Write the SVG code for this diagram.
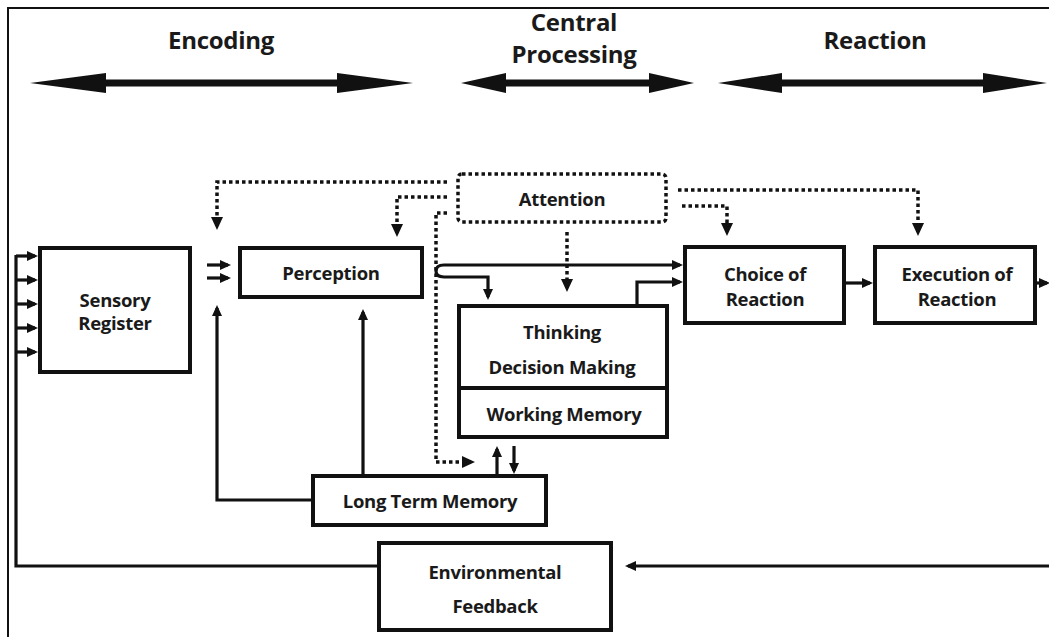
<svg xmlns="http://www.w3.org/2000/svg" width="1049" height="637" viewBox="0 0 1049 637">
  <style>
    .box { fill: #fff; stroke: #111; stroke-width: 4; }
    .dbox { fill: #fff; stroke: #111; stroke-width: 3.5; stroke-dasharray: 3.5 3; }
    .wire { fill: none; stroke: #111; stroke-width: 3.2; }
    .dot { fill: none; stroke: #111; stroke-width: 3.5; stroke-dasharray: 3.5 3; }
    .lbl { font-family: "Open Sans", "Liberation Sans", sans-serif; font-weight: 700; font-size: 18.5px; fill: #1a1a1a; text-anchor: middle; letter-spacing: -0.3px; }
    .hdr { font-family: "Open Sans", "Liberation Sans", sans-serif; font-weight: 700; font-size: 24px; fill: #1a1a1a; text-anchor: middle; letter-spacing: -0.3px; }
    .band { fill: #111; }
  </style>
  <defs>
    <marker id="ah" viewBox="0 0 11 10" refX="8" refY="5" markerWidth="11" markerHeight="10" markerUnits="userSpaceOnUse" orient="auto">
      <path d="M0,0 L11,5 L0,10 z" fill="#111"/>
    </marker>
    <marker id="dh" viewBox="0 0 13 12" refX="9" refY="6" markerWidth="13" markerHeight="12" markerUnits="userSpaceOnUse" orient="auto">
      <path d="M0,0 L13,6 L0,12 z" fill="#111"/>
    </marker>
  </defs>

  <!-- frame -->
  <path d="M8,637 V8 H1049" fill="none" stroke="#111" stroke-width="2"/>

  <!-- stage headers with double arrows -->
  <g id="stage-encoding">
    <text class="hdr" x="221" y="49">Encoding</text>
    <polygon class="band" points="30,83 106,73 106,79.5 337,79.5 337,73 413,83 337,93 337,86.5 106,86.5 106,93"/>
  </g>
  <g id="stage-central">
    <text class="hdr" x="574" y="31">Central</text>
    <text class="hdr" x="574" y="63">Processing</text>
    <polygon class="band" points="461,83 506,73 506,79.5 649,79.5 649,73 694,83 649,93 649,86.5 506,86.5 506,93"/>
  </g>
  <g id="stage-reaction">
    <text class="hdr" x="875" y="49">Reaction</text>
    <polygon class="band" points="718,83 782,73 782,79.5 983,79.5 983,73 1047,83 983,93 983,86.5 782,86.5 782,93"/>
  </g>

  <!-- connectors -->
  <g id="connectors">
    <!-- environmental feedback loop into the sensory register -->
    <path class="wire" d="M379,566 H16 V255"/>
    <path class="wire" d="M1049,566 H628" marker-end="url(#ah)"/>
    <path class="wire" d="M16,256 H35" marker-end="url(#ah)"/>
    <path class="wire" d="M16,280 H35" marker-end="url(#ah)"/>
    <path class="wire" d="M16,304 H35" marker-end="url(#ah)"/>
    <path class="wire" d="M16,328 H35" marker-end="url(#ah)"/>
    <path class="wire" d="M16,352 H35" marker-end="url(#ah)"/>
    <!-- inputs to perception -->
    <path class="wire" d="M207,265 H228" marker-end="url(#ah)"/>
    <path class="wire" d="M207,278 H228" marker-end="url(#ah)"/>
    <!-- long term memory to perception -->
    <path class="wire" d="M313,500 H217 V308" marker-end="url(#ah)"/>
    <path class="wire" d="M363,476 V312" marker-end="url(#ah)"/>
    <!-- perception outputs -->
    <path class="wire" d="M444,265 Q436,265 436,271 Q436,277 444,277"/>
    <path class="wire" d="M444,265 H680" marker-end="url(#ah)"/>
    <path class="wire" d="M444,277 H488 V297" marker-end="url(#ah)"/>
    <!-- thinking to choice -->
    <path class="wire" d="M637,306 V282 H680" marker-end="url(#ah)"/>
    <!-- choice to execution and beyond -->
    <path class="wire" d="M846,283 H870" marker-end="url(#ah)"/>
    <path class="wire" d="M1035,283 H1047" marker-end="url(#ah)"/>
    <!-- working memory exchange with long term memory -->
    <path class="wire" d="M497,474 V449" marker-end="url(#ah)"/>
    <path class="wire" d="M514,446 V471" marker-end="url(#ah)"/>
    <!-- attention (dotted) -->
    <path class="dot" d="M447,182 H217 V226" marker-end="url(#dh)"/>
    <path class="dot" d="M447,197 H397 V233" marker-end="url(#dh)"/>
    <path class="dot" d="M447,213 H436 V462 H471" marker-end="url(#dh)"/>
    <path class="dot" d="M567,232 V288" marker-end="url(#dh)"/>
    <path class="dot" d="M678,190 H918 V232" marker-end="url(#dh)"/>
    <path class="dot" d="M682,206 H727 V232" marker-end="url(#dh)"/>
  </g>

  <!-- nodes -->
  <g id="sensory-register">
    <rect class="box" x="40" y="248" width="150" height="124"/>
    <text class="lbl" x="115" y="307">Sensory</text>
    <text class="lbl" x="115" y="330">Register</text>
  </g>
  <g id="perception">
    <rect class="box" x="240" y="248" width="182" height="49"/>
    <text class="lbl" x="331" y="280">Perception</text>
  </g>
  <g id="attention">
    <rect class="dbox" x="458" y="174" width="208" height="48" rx="4"/>
    <text class="lbl" x="562" y="206">Attention</text>
  </g>
  <g id="thinking">
    <rect class="box" x="459" y="306" width="208" height="131"/>
    <line x1="459" y1="388" x2="667" y2="388" stroke="#111" stroke-width="4"/>
    <text class="lbl" x="562" y="339">Thinking</text>
    <text class="lbl" x="562" y="374">Decision Making</text>
    <text class="lbl" x="564" y="421">Working Memory</text>
  </g>
  <g id="choice-of-reaction">
    <rect class="box" x="685" y="247" width="159" height="76"/>
    <text class="lbl" x="765" y="281">Choice of</text>
    <text class="lbl" x="765" y="306">Reaction</text>
  </g>
  <g id="execution-of-reaction">
    <rect class="box" x="875" y="247" width="160" height="76"/>
    <text class="lbl" x="957" y="281">Execution of</text>
    <text class="lbl" x="957" y="306">Reaction</text>
  </g>
  <g id="long-term-memory">
    <rect class="box" x="313" y="476" width="233" height="49"/>
    <text class="lbl" x="430" y="508">Long Term Memory</text>
  </g>
  <g id="environmental-feedback">
    <rect class="box" x="379" y="543" width="232" height="87"/>
    <text class="lbl" x="495" y="579">Environmental</text>
    <text class="lbl" x="495" y="613">Feedback</text>
  </g>
</svg>
